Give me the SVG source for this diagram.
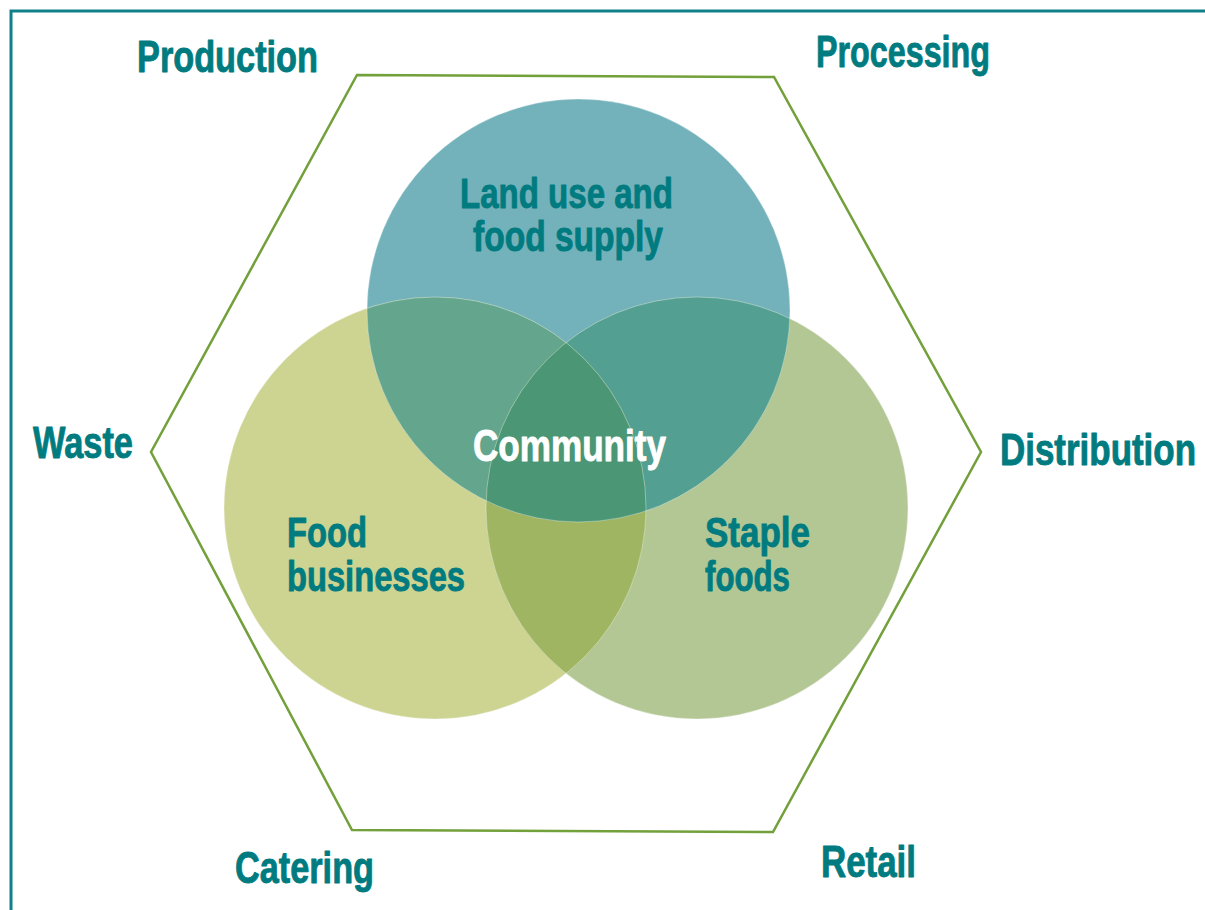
<svg xmlns="http://www.w3.org/2000/svg" width="1205" height="910" viewBox="0 0 1205 910">
<style>
.lbl{font-family:"Liberation Sans Narrow","Liberation Sans",Arial,sans-serif;font-weight:bold;font-size:44px;fill:#007b80;stroke:#007b80;stroke-width:0.9;stroke-linejoin:round}
.in{font-size:43px}
.wh{fill:#ffffff;stroke:#ffffff}
.edge{fill:none;stroke:#ffffff;stroke-opacity:0.35;stroke-width:1}
</style>
<defs>
<clipPath id="cTop"><circle cx="578.5" cy="310.5" r="211.5"/></clipPath>
<clipPath id="cLeft"><circle cx="435" cy="508" r="211"/></clipPath>
<clipPath id="cRight"><circle cx="697" cy="508" r="211"/></clipPath>
</defs>
<rect width="1205" height="910" fill="#ffffff"/>
<path d="M11,910 V11 H1205" fill="none" stroke="#0f8089" stroke-width="3"/>
<g id="hexagon">
<polygon points="357,75 774,77 981,452 773,832 352,830 151,452" fill="none" stroke="#72a03a" stroke-width="2.5" stroke-linejoin="miter"/>
</g>
<g id="venn">
<g id="circle-top"><circle cx="578.5" cy="310.5" r="211.5" fill="#73b2bb"/></g>
<g id="circle-left"><circle cx="435" cy="508" r="211" fill="#cdd391"/></g>
<g id="circle-right"><circle cx="697" cy="508" r="211" fill="#b3c795"/></g>
<g clip-path="url(#cTop)"><circle cx="435" cy="508" r="211" fill="#63a58d"/><circle cx="697" cy="508" r="211" fill="#539f91"/></g>
<g clip-path="url(#cLeft)"><circle cx="697" cy="508" r="211" fill="#a0b562"/></g>
<g clip-path="url(#cLeft)"><g clip-path="url(#cRight)"><circle cx="578.5" cy="310.5" r="211.5" fill="#4b9674"/></g></g>
<circle class="edge" cx="578.5" cy="310.5" r="211.5"/>
<circle class="edge" cx="435" cy="508" r="211"/>
<circle class="edge" cx="697" cy="508" r="211"/>
</g>
<g id="connectors"></g>
<g id="label-production"><text class="lbl" x="137" y="72" textLength="181" lengthAdjust="spacingAndGlyphs">Production</text></g>
<g id="label-processing"><text class="lbl" x="816" y="67" textLength="174" lengthAdjust="spacingAndGlyphs">Processing</text></g>
<g id="label-waste"><text class="lbl" x="33" y="458" textLength="100" lengthAdjust="spacingAndGlyphs">Waste</text></g>
<g id="label-distribution"><text class="lbl" x="1000" y="465" textLength="196" lengthAdjust="spacingAndGlyphs">Distribution</text></g>
<g id="label-catering"><text class="lbl" x="235" y="883" textLength="139" lengthAdjust="spacingAndGlyphs">Catering</text></g>
<g id="label-retail"><text class="lbl" x="821" y="877" textLength="95" lengthAdjust="spacingAndGlyphs">Retail</text></g>
<g id="label-land"><text class="lbl in" x="460" y="208" textLength="213" lengthAdjust="spacingAndGlyphs">Land use and</text><text class="lbl in" x="473" y="251" textLength="190" lengthAdjust="spacingAndGlyphs">food supply</text></g>
<g id="label-food"><text class="lbl in" x="287" y="547" textLength="80" lengthAdjust="spacingAndGlyphs">Food</text><text class="lbl in" x="287" y="591" textLength="178" lengthAdjust="spacingAndGlyphs">businesses</text></g>
<g id="label-staple"><text class="lbl in" x="705" y="547" textLength="105" lengthAdjust="spacingAndGlyphs">Staple</text><text class="lbl in" x="705" y="591" textLength="85" lengthAdjust="spacingAndGlyphs">foods</text></g>
<g id="label-community"><text class="lbl wh" x="473" y="461" textLength="193" lengthAdjust="spacingAndGlyphs">Community</text></g>
</svg>
